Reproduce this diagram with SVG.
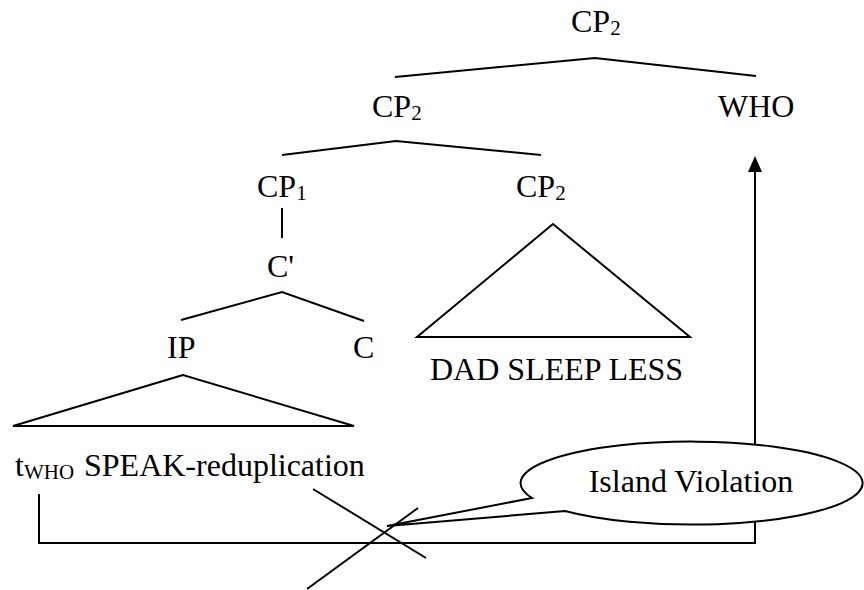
<svg xmlns="http://www.w3.org/2000/svg" width="864" height="590" viewBox="0 0 864 590">
  <style>
    .t { font-family: "Liberation Serif", "Times New Roman", serif; font-size: 32px; fill: #000; }
    .sub { font-size: 21px; }
    .ln { fill: none; stroke: #000; stroke-width: 2; stroke-linejoin: miter; }
    .tri { fill: none; stroke: #000; stroke-width: 2; stroke-linejoin: miter; }
  </style>
  <defs>
    <marker id="arrow" markerUnits="userSpaceOnUse" viewBox="0 0 16 14" refX="6" refY="7" markerWidth="16" markerHeight="14" orient="auto">
      <path d="M0,0 L16,7 L0,14 Z" fill="#000"/>
    </marker>
  </defs>

  <rect width="864" height="590" fill="#fff"/>

  <g id="connectors">
    <polyline class="ln" points="395,77 595,58 756,76"/>
    <polyline class="ln" points="282,155 396,141 541,155"/>
    <line class="ln" x1="282" y1="208" x2="282" y2="238"/>
    <polyline class="ln" points="181,320 282,292 364,321"/>
    <path class="ln" d="M39,494 V543 H755 V166" marker-end="url(#arrow)"/>
  </g>

  <g id="node-cp2-root"><text class="t" x="571" y="32">CP<tspan class="sub" dy="3">2</tspan></text></g>
  <g id="node-cp2-mid"><text class="t" x="372" y="117">CP<tspan class="sub" dy="3">2</tspan></text></g>
  <g id="node-who"><text class="t" x="718" y="117">WHO</text></g>
  <g id="node-cp1"><text class="t" x="257" y="197">CP<tspan class="sub" dy="3">1</tspan></text></g>
  <g id="node-cp2-low"><text class="t" x="516" y="197">CP<tspan class="sub" dy="3">2</tspan></text></g>
  <g id="node-cbar"><text class="t" x="267" y="277">C'</text></g>
  <g id="node-ip"><text class="t" x="167" y="358">IP</text></g>
  <g id="node-c"><text class="t" x="353" y="358">C</text></g>

  <g id="node-dad-triangle">
    <polygon class="tri" points="553,224 417,337 690,337"/>
    <text class="t" x="430" y="380">DAD SLEEP LESS</text>
  </g>

  <g id="node-ip-triangle">
    <polygon class="tri" points="183,375 13,426 354,426"/>
    <text class="t" x="15" y="476">t<tspan class="sub" font-size="20" dy="3">WHO</tspan><tspan x="84" dy="-3">SPEAK-reduplication</tspan></text>
  </g>

  <g id="node-island-violation">
    <path d="M532,498 A171,41.5 0 1 1 565,511 L387,526 Z" fill="#fff" stroke="#000" stroke-width="2" stroke-linejoin="miter"/>
    <text class="t" x="691" y="492" text-anchor="middle">Island Violation</text>
  </g>

  <g id="cross-mark">
    <line class="ln" x1="313" y1="489" x2="426" y2="558"/>
    <line class="ln" x1="418" y1="508" x2="307" y2="589"/>
  </g>
</svg>
